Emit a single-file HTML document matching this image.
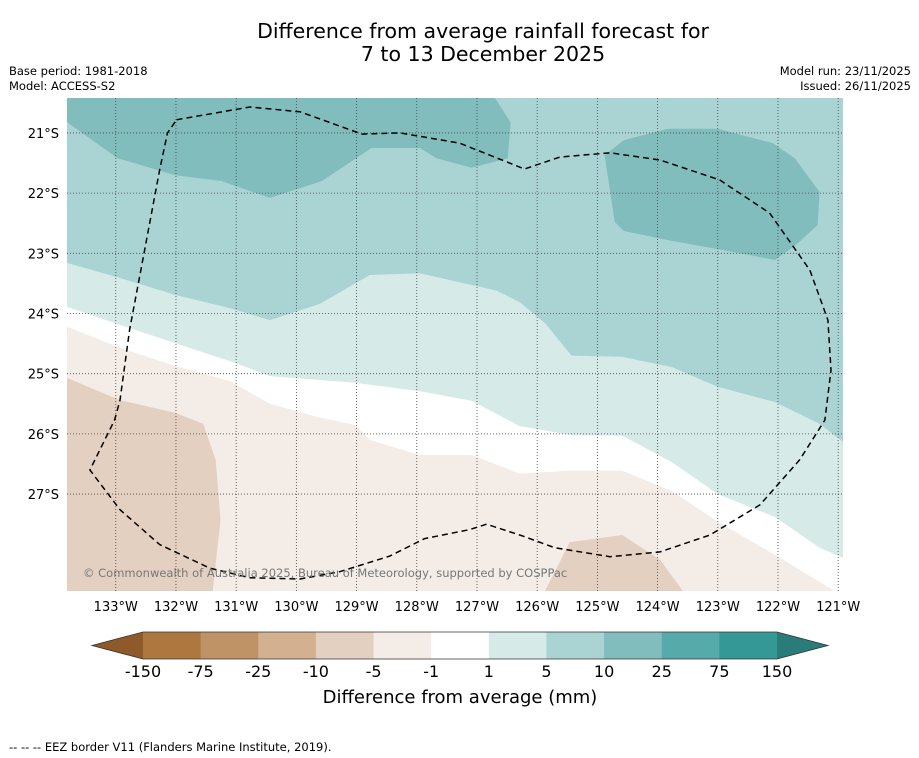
<!DOCTYPE html>
<html><head><meta charset="utf-8">
<style>
body{margin:0;background:#fff;width:919px;height:758px;overflow:hidden;font-family:"DejaVu Sans","Liberation Sans",sans-serif;}
svg{position:absolute;left:0;top:0;font-family:"DejaVu Sans","Liberation Sans",sans-serif}
</style></head>
<body>
<svg id="c" width="919" height="758" xmlns="http://www.w3.org/2000/svg"></svg>
<script>
// Map extent (deg W, deg S positive)
const lonW0 = 133.81, lonW1 = 120.92, latS0 = 20.42, latS1 = 28.61;
const lonTicks = [133,132,131,130,129,128,127,126,125,124,123,122,121];
const latTicks = [21,22,23,24,25,26,27];
const levelLabels = ["-150","-75","-25","-10","-5","-1","1","5","10","25","75","150"];
const levelColors = ["#ae773f","#c09366","#d3b08f","#e3d0c0","#f4ece6","#ffffff","#d6eae8","#a9d4d3","#80bdbc","#56aaaa","#339896"];
// Contour boundaries [lonW, latS]
const bound5 = [[133.81,23.16],[132.93,23.41],[132.02,23.69],[131.11,23.91],[130.44,24.11],[129.61,23.84],[128.78,23.36],[127.95,23.33],[127.29,23.48],[126.67,23.62],[126.29,23.81],[125.87,24.16],[125.43,24.70],[124.59,24.72],[123.76,24.89],[123.0,25.22],[122.05,25.47],[121.31,25.83],[120.92,26.13]];
const bound1 = [[133.81,23.89],[132.93,24.19],[132.02,24.49],[131.02,24.82],[130.44,25.04],[129.03,25.15],[127.95,25.29],[127.09,25.45],[126.29,25.87],[125.43,26.02],[124.59,26.03],[123.76,26.47],[123.0,27.0],[122.05,27.38],[121.31,27.89],[120.92,28.06]];
const boundM1 = [[133.81,24.22],[132.93,24.57],[132.02,24.87],[131.11,25.12],[130.44,25.50],[129.61,25.73],[129.03,25.85],[128.78,26.10],[127.95,26.35],[127.09,26.35],[126.29,26.66],[125.43,26.61],[124.59,26.61],[123.76,26.95],[123.0,27.46],[122.05,28.01],[121.06,28.61]];
const brownLeft = [[133.81,25.07],[132.93,25.44],[132.02,25.65],[131.55,25.83],[131.34,26.43],[131.26,27.43],[131.39,28.61],[133.81,28.61]];
const brownBottom = [[125.87,28.61],[125.46,27.80],[124.59,27.68],[123.96,28.09],[123.58,28.61]];
const teal10Top = [[133.81,20.82],[132.97,21.42],[132.02,21.70],[131.24,21.80],[130.44,22.08],[129.58,21.80],[128.75,21.25],[127.95,21.25],[127.67,21.42],[127.09,21.58],[126.49,21.42],[126.44,20.83],[126.70,20.42],[133.81,20.42]];
const teal10Right = [[124.88,21.37],[124.56,21.12],[123.83,20.93],[123.0,20.93],[122.09,21.17],[121.72,21.42],[121.31,21.98],[121.34,22.53],[121.70,22.86],[122.05,23.11],[123.0,22.93],[123.83,22.78],[124.56,22.63],[124.71,22.48]];
const eez = [[131.99,20.78],[130.77,20.57],[129.94,20.65],[128.91,21.02],[128.28,21.0],[127.29,21.17],[126.21,21.60],[125.62,21.40],[124.79,21.33],[123.96,21.45],[122.97,21.78],[122.14,22.33],[121.47,23.28],[121.17,24.11],[121.12,24.94],[121.22,25.77],[121.64,26.43],[122.30,27.18],[123.13,27.68],[123.96,27.96],[124.79,28.04],[125.71,27.89],[126.26,27.69],[126.84,27.50],[127.12,27.59],[127.87,27.74],[128.45,28.03],[129.28,28.29],[129.94,28.41],[130.77,28.39],[131.44,28.23],[132.27,27.84],[132.93,27.26],[133.43,26.60],[133.02,25.77],[132.93,25.44],[132.77,24.27],[132.52,22.94],[132.27,21.61],[132.14,21.0],[131.99,20.78]];

const NS='http://www.w3.org/2000/svg';
const svg=document.getElementById('c');
const X0=67,X1=843,Y0=98,Y1=591;
const px=l=>X0+(lonW0-l)/(lonW0-lonW1)*(X1-X0);
const py=l=>Y0+(l-latS0)/(latS1-latS0)*(Y1-Y0);
function el(t,a,p){const e=document.createElementNS(NS,t);for(const k in a)e.setAttribute(k,a[k]);(p||svg).appendChild(e);return e;}
function txt(s,a,p){const e=el('text',a,p);e.textContent=s;return e;}
const pts=arr=>arr.map(p=>px(p[0]).toFixed(1)+','+py(p[1]).toFixed(1)).join(' ');

const defs=el('defs',{});const cp=el('clipPath',{id:'mc'},defs);el('rect',{x:X0,y:Y0,width:X1-X0,height:Y1-Y0},cp);
const g=el('g',{'clip-path':'url(#mc)'});

let r=el('rect',{x:X0,y:Y0,width:X1-X0,height:Y1-Y0,fill:levelColors[7]},g);

function below(b,fill,name){const a=b.concat([[lonW1,latS1],[lonW0,latS1]]);const p=el('polygon',{points:pts(a),fill:fill},g);}
below(bound5,levelColors[6],'region-1-5');
below(bound1,levelColors[5],'region-neg1-1');
below(boundM1,levelColors[4],'region-neg5-neg1');
[[brownLeft,'region-neg10-neg5-west'],[brownBottom,'region-neg10-neg5-south'],[teal10Top,'region-10-25-north'],[teal10Right,'region-10-25-east']].forEach(([a,n],i)=>{
  const p=el('polygon',{points:pts(a),fill:i<2?levelColors[3]:levelColors[8]},g);
  
});
// grid
lonTicks.forEach(l=>{const x=px(l);const ln=el('line',{x1:x,x2:x,y1:Y0,y2:Y1,stroke:'#444','stroke-width':0.8,'stroke-dasharray':'1,2'},g);});
latTicks.forEach(l=>{const y=py(l);const ln=el('line',{x1:X0,x2:X1,y1:y,y2:y,stroke:'#444','stroke-width':0.8,'stroke-dasharray':'1,2'},g);});
const ez=el('polyline',{points:pts(eez),fill:'none',stroke:'#000','stroke-width':1.5,'stroke-dasharray':'6,4','stroke-linejoin':'round'},g);

const cr=txt('© Commonwealth of Australia 2025, Bureau of Meteorology, supported by COSPPac',{x:83,y:577,'font-size':11.5,fill:'#777'},g);


lonTicks.forEach(l=>{const t=txt(l+'°W',{x:px(l),y:611,'font-size':13,'text-anchor':'middle',fill:'#000'});});
latTicks.forEach(l=>{const t=txt(l+'°S',{x:59,y:py(l)+5,'font-size':13,'text-anchor':'end',fill:'#000'});});

// colorbar
const CB0=143,CB1=777,CY=632,CH=27,seg=(CB1-CB0)/levelColors.length;
levelColors.forEach((c,i)=>{const s=el('rect',{x:CB0+i*seg,y:CY,width:seg+0.5,height:CH,fill:c});});
let tl=el('polygon',{points:`92,${CY+CH/2} ${CB0},${CY} ${CB0},${CY+CH}`,fill:'#8e5a2a'});
let tr=el('polygon',{points:`828,${CY+CH/2} ${CB1},${CY} ${CB1},${CY+CH}`,fill:'#2a7c7a'});
let ol=el('polygon',{points:`92,${CY+CH/2} ${CB0},${CY} ${CB1},${CY} 828,${CY+CH/2} ${CB1},${CY+CH} ${CB0},${CY+CH}`,fill:'none',stroke:'#333','stroke-width':0.8});
levelLabels.forEach((s,i)=>{const t=txt(s,{x:CB0+i*seg,y:677,'font-size':16,'text-anchor':'middle'});});
let ct=txt('Difference from average (mm)',{x:460,y:703,'font-size':18,'text-anchor':'middle'});

let t1=txt('Difference from average rainfall forecast for',{x:483,y:38,'font-size':20.5,'text-anchor':'middle'});
let t2=txt('7 to 13 December 2025',{x:483,y:61,'font-size':20.5,'text-anchor':'middle'});
[['Base period: 1981-2018',9,75,'start','base-period'],['Model: ACCESS-S2',9,90,'start','model-name'],['Model run: 23/11/2025',911,75,'end','model-run'],['Issued: 26/11/2025',911,90,'end','issued-date'],['--  --  -- EEZ border V11 (Flanders Marine Institute, 2019).',9,751,'start','eez-legend']].forEach(a=>{
  const t=txt(a[0],{x:a[1],y:a[2],'font-size':11.5,'text-anchor':a[3],'xml:space':'preserve'});
});
</script>
</body></html>
